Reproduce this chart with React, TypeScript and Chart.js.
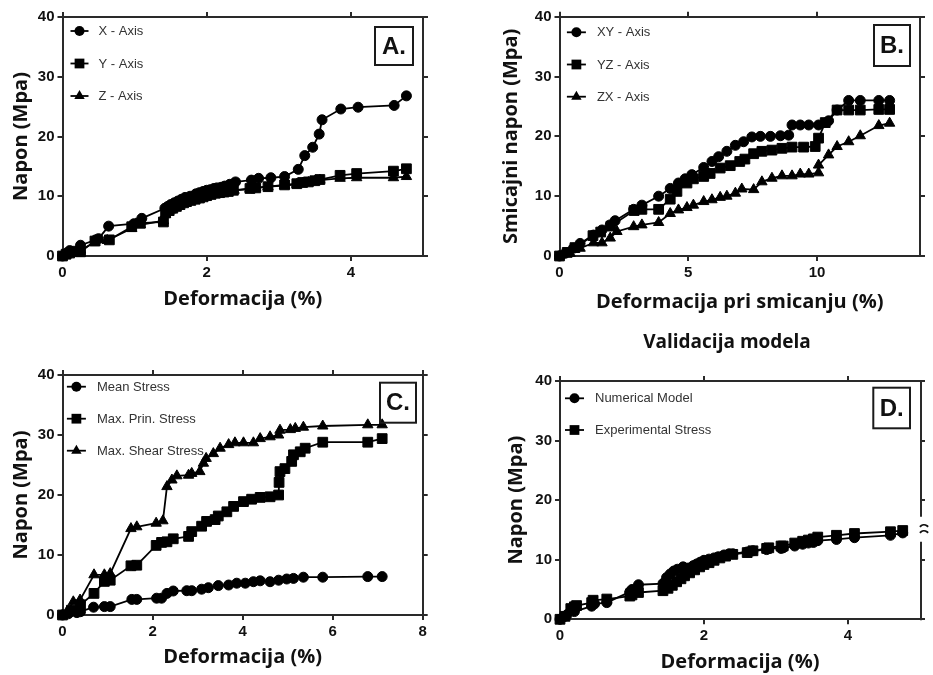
import React, { useEffect, useRef } from "react";
import { Chart, registerables } from "chart.js";

Chart.register(...registerables);

// ---------------- Panel A data ----------------
const aTicksX = [0, 2, 4];
const aXStrain = [0, 0.05, 0.1, 0.25, 0.46, 0.5, 0.64, 0.99, 1.1, 1.42, 1.46, 1.5, 1.55, 1.6, 1.65, 1.7, 1.77, 1.85, 1.9, 1.95, 2.0, 2.05, 2.1, 2.14, 2.2, 2.25, 2.32, 2.4, 2.62, 2.72, 2.89, 3.08, 3.27, 3.36, 3.47, 3.56, 3.6, 3.86, 4.1, 4.6, 4.77];
const aXStress = [0, 0.4, 0.9, 1.8, 2.7, 2.9, 5.0, 5.4, 6.3, 8.0, 8.3, 8.6, 8.9, 9.2, 9.5, 9.8, 10.0, 10.4, 10.6, 10.8, 11.0, 11.1, 11.3, 11.4, 11.5, 11.7, 12.0, 12.4, 12.7, 13.0, 13.1, 13.3, 14.5, 16.8, 18.2, 20.4, 22.8, 24.6, 24.9, 25.2, 26.8];
const aYStrain = [0, 0.05, 0.1, 0.2, 0.25, 0.45, 0.65, 0.96, 1.08, 1.4, 1.43, 1.48, 1.53, 1.58, 1.63, 1.68, 1.72, 1.78, 1.84, 1.9, 1.95, 2.0, 2.06, 2.12, 2.18, 2.24, 2.3, 2.37, 2.6, 2.68, 2.85, 3.08, 3.25, 3.33, 3.41, 3.5, 3.57, 3.85, 4.08, 4.59, 4.77];
const aYStress = [0, 0.3, 0.5, 0.8, 0.7, 2.5, 2.7, 4.9, 5.5, 5.7, 7.2, 7.6, 8.0, 8.3, 8.6, 8.9, 9.1, 9.3, 9.5, 9.7, 9.9, 10.1, 10.3, 10.5, 10.6, 10.7, 10.8, 11.0, 11.3, 11.4, 11.6, 11.9, 12.1, 12.3, 12.4, 12.6, 12.8, 13.5, 13.8, 14.2, 14.6];
const aZStrain = [0, 0.05, 0.12, 0.2, 0.25, 0.45, 0.62, 0.96, 1.08, 1.4, 1.43, 1.5, 1.55, 1.6, 1.66, 1.72, 1.78, 1.84, 1.9, 1.96, 2.02, 2.08, 2.14, 2.2, 2.26, 2.32, 2.38, 2.6, 2.68, 2.85, 3.08, 3.25, 3.33, 3.41, 3.5, 3.57, 3.85, 4.08, 4.59, 4.77];
const aZStress = [0, 0.2, 0.6, 0.9, 1.0, 2.3, 2.6, 4.6, 5.2, 5.9, 7.0, 7.7, 8.1, 8.4, 8.8, 9.1, 9.4, 9.6, 9.8, 10.0, 10.2, 10.4, 10.5, 10.7, 10.8, 10.9, 11.0, 11.2, 11.4, 11.6, 11.8, 12.0, 12.2, 12.3, 12.5, 12.7, 13.0, 13.1, 13.1, 13.3];

// ---------------- Panel B data ----------------
const bTicksX = [0, 5, 10];
const bXYStrain = [0, 0.22, 0.54, 0.8, 1.32, 1.65, 1.97, 2.16, 2.88, 3.2, 3.85, 4.3, 4.62, 4.88, 5.14, 5.6, 5.92, 6.18, 6.5, 6.83, 7.15, 7.47, 7.8, 8.19, 8.58, 8.9, 9.03, 9.35, 9.68, 10.06, 10.45, 10.78, 11.23, 11.68, 12.4, 12.82];
const bXYStress = [0, 0.45, 1.3, 2.1, 3.5, 4.35, 5.2, 5.9, 7.8, 8.5, 10.0, 11.3, 12.2, 12.9, 13.6, 14.8, 15.8, 16.6, 17.5, 18.5, 19.1, 19.9, 20.0, 20.0, 20.1, 20.2, 21.9, 21.9, 21.9, 21.9, 22.6, 24.4, 26.0, 26.0, 26.0, 26.0];
const bYZStrain = [0, 0.3, 0.6, 1.3, 1.6, 2.0, 2.9, 3.2, 3.85, 4.3, 4.56, 4.95, 5.2, 5.6, 5.85, 6.24, 6.63, 7.0, 7.2, 7.54, 7.86, 8.25, 8.64, 9.03, 9.48, 9.93, 10.06, 10.32, 10.78, 11.23, 11.68, 12.4, 12.82];
const bYZStress = [0, 0.6, 1.4, 3.4, 4.0, 5.0, 7.6, 7.8, 7.8, 9.5, 10.8, 12.2, 12.9, 13.3, 13.8, 14.7, 15.1, 15.8, 16.2, 17.1, 17.5, 17.7, 18.0, 18.2, 18.2, 18.3, 19.7, 22.3, 24.4, 24.4, 24.4, 24.5, 24.5];
const bZXStrain = [0, 0.41, 0.8, 1.32, 1.65, 1.97, 2.23, 2.88, 3.2, 3.85, 4.3, 4.62, 4.95, 5.2, 5.6, 5.92, 6.24, 6.5, 6.83, 7.08, 7.54, 7.86, 8.25, 8.64, 9.03, 9.35, 9.68, 10.06, 10.06, 10.45, 10.78, 11.23, 11.68, 12.4, 12.82];
const bZXStress = [0, 0.45, 1.3, 2.2, 2.2, 3.0, 4.1, 4.9, 5.2, 5.6, 7.1, 7.7, 8.1, 8.5, 9.1, 9.4, 9.8, 10.0, 10.5, 11.2, 11.1, 12.4, 13.0, 13.4, 13.4, 13.7, 13.7, 13.9, 15.2, 16.9, 18.3, 19.1, 20.1, 21.8, 22.2];

// ---------------- Panel C data ----------------
const cTicksX = [0, 2, 4, 6, 8];
const cMeanStrain = [0, 0.13, 0.32, 0.4, 0.69, 0.93, 1.06, 1.54, 1.65, 2.09, 2.2, 2.32, 2.46, 2.76, 2.87, 3.09, 3.24, 3.46, 3.69, 3.87, 4.06, 4.24, 4.39, 4.61, 4.8, 4.98, 5.13, 5.35, 5.78, 6.78, 7.1];
const cMeanStress = [0, 0.2, 0.4, 0.55, 1.3, 1.4, 1.4, 2.6, 2.6, 2.8, 2.8, 3.6, 4.0, 4.05, 4.05, 4.3, 4.55, 4.9, 5.0, 5.3, 5.3, 5.55, 5.7, 5.55, 5.8, 6.0, 6.1, 6.3, 6.3, 6.4, 6.4];
const cPrinStrain = [0, 0.2, 0.4, 0.7, 0.93, 1.06, 1.52, 1.65, 2.08, 2.2, 2.32, 2.46, 2.8, 2.87, 3.09, 3.2, 3.39, 3.46, 3.65, 3.8, 4.02, 4.2, 4.39, 4.61, 4.8, 4.81, 4.83, 4.94, 5.09, 5.13, 5.28, 5.39, 5.78, 6.78, 7.1];
const cPrinStress = [0, 0.8, 1.7, 3.6, 5.6, 5.8, 8.2, 8.3, 11.6, 12.1, 12.2, 12.7, 13.1, 13.9, 14.8, 15.6, 15.9, 16.5, 17.2, 18.1, 18.9, 19.3, 19.6, 19.7, 20.0, 22.1, 23.9, 24.4, 25.6, 26.7, 27.2, 27.8, 28.8, 28.8, 29.4];
const cShearStrain = [0, 0.1, 0.24, 0.39, 0.7, 0.93, 1.06, 1.52, 1.65, 2.08, 2.23, 2.32, 2.43, 2.54, 2.8, 2.87, 3.05, 3.13, 3.19, 3.35, 3.5, 3.69, 3.83, 4.02, 4.24, 4.39, 4.61, 4.8, 4.83, 5.06, 5.17, 5.35, 5.78, 6.78, 7.1];
const cShearStress = [0, 0.55, 2.2, 2.5, 6.7, 6.7, 6.9, 14.4, 14.7, 15.3, 15.7, 21.4, 22.5, 23.2, 23.3, 23.6, 23.9, 25.3, 26.1, 26.9, 27.8, 28.4, 28.7, 28.7, 28.7, 29.4, 29.7, 30.0, 30.8, 30.9, 31.1, 31.3, 31.5, 31.7, 31.7];

// ---------------- Panel D data ----------------
const dTicksX = [0, 2, 4];
const dNumStrain = [0, 0.05, 0.1, 0.2, 0.44, 0.48, 0.65, 0.97, 1.0, 1.09, 1.43, 1.48, 1.53, 1.58, 1.63, 1.71, 1.78, 1.85, 1.9, 1.95, 2.0, 2.07, 2.14, 2.2, 2.28, 2.35, 2.4, 2.6, 2.68, 2.87, 2.9, 3.07, 3.1, 3.26, 3.37, 3.45, 3.52, 3.58, 3.84, 4.09, 4.59, 4.76];
const dNumStress = [0, 0.4, 0.8, 1.3, 2.2, 2.6, 2.8, 4.6, 5.0, 5.8, 6.0, 7.0, 7.6, 8.1, 8.4, 8.8, 8.6, 9.0, 9.3, 9.6, 9.9, 10.1, 10.3, 10.5, 10.8, 11.0, 11.0, 11.3, 11.5, 11.7, 11.9, 11.9, 12.0, 12.3, 12.6, 12.8, 12.9, 13.2, 13.4, 13.7, 14.1, 14.5];
const dExpStrain = [0, 0.07, 0.15, 0.2, 0.23, 0.44, 0.46, 0.65, 0.97, 1.0, 1.09, 1.43, 1.5, 1.56, 1.62, 1.68, 1.73, 1.8, 1.87, 1.94, 2.0, 2.07, 2.14, 2.22, 2.3, 2.4, 2.6, 2.68, 2.87, 2.9, 3.07, 3.1, 3.26, 3.37, 3.45, 3.52, 3.58, 3.84, 4.09, 4.59, 4.76];
const dExpStress = [0, 0.5, 1.8, 2.1, 2.3, 2.8, 3.2, 3.4, 3.9, 4.1, 4.5, 4.8, 5.2, 5.7, 6.3, 6.8, 7.3, 7.8, 8.3, 8.8, 9.2, 9.5, 9.9, 10.3, 10.6, 10.9, 11.2, 11.5, 11.9, 12.0, 12.3, 12.3, 12.8, 13.1, 13.3, 13.5, 13.8, 14.1, 14.4, 14.7, 14.9];

// ---------------- styling ----------------
const AXIS_COLOR = "#2a2a2a";
const TEXT_COLOR = "#111111";
const LEGEND_COLOR = "#333333";
const TITLE_FONT = { family: "'Open Sans', sans-serif", size: 20, weight: "bold" as const, lineHeight: 1.2 };
const TICK_FONT = { family: "'Liberation Sans', Arial, sans-serif", size: 15, weight: "bold" as const, lineHeight: 1.2 };

const MARKERS: Record<string, number> = { circle: 5, rect: 6.9, triangle: 6 };

function series(label: string, xs: number[], ys: number[], style: string) {
  return {
    label,
    data: xs.map((x, i) => ({ x, y: ys[i] })),
    borderColor: "#000",
    borderWidth: 1.8,
    backgroundColor: "#000",
    pointStyle: style,
    pointRadius: MARKERS[style],
    pointBackgroundColor: "#000",
    pointBorderColor: "#000",
    pointBorderWidth: 1,
    tension: 0,
    clip: false as const,
  };
}

function drawMarker(ctx: CanvasRenderingContext2D, style: string, x: number, y: number, r: number) {
  ctx.beginPath();
  if (style === "circle") {
    ctx.arc(x, y, r, 0, Math.PI * 2);
  } else if (style === "rect") {
    const s = r * Math.SQRT1_2;
    ctx.rect(x - s, y - s, 2 * s, 2 * s);
  } else {
    ctx.moveTo(x, y - r);
    ctx.lineTo(x + r * 0.866, y + r * 0.5);
    ctx.lineTo(x - r * 0.866, y + r * 0.5);
    ctx.closePath();
  }
  ctx.fill();
}

const decorPlugin = {
  id: "decor",
  afterDraw(chart: any, _args: any, o: any) {
    const { ctx, chartArea: ca } = chart;
    ctx.save();
    // legend inside plot
    chart.data.datasets.forEach((ds: any, i: number) => {
      const y = ca.top + o.legendTop + i * o.legendGap;
      const x0 = ca.left + o.legendLeft;
      ctx.strokeStyle = "#000";
      ctx.lineWidth = 1.8;
      ctx.beginPath();
      ctx.moveTo(x0, y);
      ctx.lineTo(x0 + o.legendLine, y);
      ctx.stroke();
      ctx.fillStyle = "#000";
      drawMarker(ctx, ds.pointStyle, x0 + o.legendLine / 2, y, ds.pointRadius);
      ctx.fillStyle = LEGEND_COLOR;
      ctx.font = "13px 'Liberation Sans', Arial, sans-serif";
      ctx.textAlign = "left";
      ctx.textBaseline = "middle";
      ctx.fillText(ds.label, ca.left + o.legendText, y + 0.5);
    });
    // panel letter box
    const bx = ca.right - o.boxRight - o.boxW;
    const by = ca.top + o.boxTop;
    ctx.strokeStyle = "#1a1a1a";
    ctx.lineWidth = 2;
    ctx.strokeRect(bx, by, o.boxW, o.boxH);
    ctx.fillStyle = "#111";
    ctx.font = "bold 24px 'Liberation Sans', Arial, sans-serif";
    ctx.textAlign = "center";
    ctx.textBaseline = "middle";
    ctx.fillText(o.boxLabel, bx + o.boxW / 2, by + o.boxH / 2 + 1);
    // right axis with optional break
    if (o.breakFrom !== undefined) {
      const ys = chart.scales.y;
      const pTop = ys.getPixelForValue(o.breakTo);
      const pBot = ys.getPixelForValue(o.breakFrom);
      const x = ca.right + 1;
      ctx.strokeStyle = AXIS_COLOR;
      ctx.lineWidth = 2;
      ctx.beginPath();
      ctx.moveTo(x, ca.top - 1);
      ctx.lineTo(x, pTop);
      ctx.moveTo(x, pBot);
      ctx.lineTo(x, ca.bottom + 1);
      ctx.stroke();
      const mid = (pTop + pBot) / 2;
      ctx.lineWidth = 1.8;
      ctx.strokeStyle = "#111";
      for (const dy of [-3.5, 2.5]) {
        ctx.beginPath();
        ctx.arc(x + 3, mid + dy + 4, 5, Math.PI * 1.2, Math.PI * 1.8);
        ctx.stroke();
      }
    }
    ctx.restore();
  },
};

type Box = { left: number; top: number; width: number; height: number };
type Area = { left: number; top: number; right: number; bottom: number };
type PanelCfg = {
  canvas: Box;
  area: Area;
  yTitleX: number;
  xTitleY: number;
  title?: string;
  titleY?: number;
  xMax: number;
  xTicks: number[];
  xTitle: string;
  yTitle: string;
  datasets: any[];
  decor: any;
};

function Panel({ cfg }: { cfg: PanelCfg }) {
  const ref = useRef<HTMLCanvasElement | null>(null);
  useEffect(() => {
    const c = cfg.canvas;
    const a = cfg.area;
    const lh = TITLE_FONT.size * TITLE_FONT.lineHeight;
    const yW = a.left - c.left;
    const y2W = c.left + c.width - a.right;
    const xH = c.top + c.height - a.bottom;
    let topTotal = a.top - c.top;
    const titleFontSize = 19;
    const tlh = titleFontSize * 1.2;
    let titlePadTop = 0;
    const titlePadBottom = 6;
    if (cfg.title) {
      titlePadTop = (cfg.titleY as number) - c.top - tlh / 2;
      topTotal -= titlePadTop + tlh + titlePadBottom;
    }
    const x2H = topTotal;
    const tickSetter = (s: any) => {
      s.ticks = cfg.xTicks.map((v) => ({ value: v }));
    };
    const gridCommon = {
      display: true,
      drawOnChartArea: false,
      drawTicks: true,
      tickLength: 5,
      lineWidth: 2,
      color: AXIS_COLOR,
    };
    const borderCommon = { display: true, width: 2, color: AXIS_COLOR };
    const hasBreak = cfg.decor.breakFrom !== undefined;
    const chart = new Chart(ref.current as HTMLCanvasElement, {
      type: "line",
      data: { datasets: cfg.datasets },
      plugins: [decorPlugin as any],
      options: {
        animation: false,
        responsive: false,
        devicePixelRatio: 1,
        layout: { padding: 0 },
        plugins: {
          legend: { display: false },
          tooltip: { enabled: false },
          title: cfg.title
            ? {
                display: true,
                text: cfg.title,
                color: TEXT_COLOR,
                font: { family: "'Open Sans', sans-serif", size: titleFontSize, weight: "bold", lineHeight: 1.2 },
                padding: { top: titlePadTop, bottom: titlePadBottom },
              }
            : { display: false },
          decor: cfg.decor,
        } as any,
        scales: {
          x: {
            type: "linear",
            position: "bottom",
            min: 0,
            max: cfg.xMax,
            afterBuildTicks: tickSetter,
            ticks: { font: TICK_FONT, color: TEXT_COLOR, padding: 3, maxRotation: 0, autoSkip: false },
            grid: gridCommon,
            border: borderCommon,
            title: {
              display: true,
              text: cfg.xTitle,
              color: TEXT_COLOR,
              font: TITLE_FONT,
              padding: { top: 0, bottom: c.top + c.height - cfg.xTitleY - lh / 2 },
            },
            afterFit: (s: any) => {
              s.height = xH;
            },
          },
          x2: {
            type: "linear",
            position: "top",
            min: 0,
            max: cfg.xMax,
            afterBuildTicks: tickSetter,
            ticks: { display: false },
            grid: gridCommon,
            border: borderCommon,
            afterFit: (s: any) => {
              s.height = x2H;
            },
          },
          y: {
            type: "linear",
            position: "left",
            min: 0,
            max: 40,
            ticks: { stepSize: 10, font: TICK_FONT, color: TEXT_COLOR, padding: 3 },
            grid: gridCommon,
            border: borderCommon,
            title: {
              display: true,
              text: cfg.yTitle,
              color: TEXT_COLOR,
              font: TITLE_FONT,
              padding: { top: cfg.yTitleX - c.left - lh / 2, bottom: 0 },
            },
            afterFit: (s: any) => {
              s.width = yW;
            },
          },
          y2: {
            type: "linear",
            position: "right",
            min: 0,
            max: 40,
            ticks: { display: false, stepSize: 10 },
            grid: gridCommon,
            border: { ...borderCommon, display: !hasBreak },
            afterFit: (s: any) => {
              s.width = y2W;
            },
          },
        } as any,
      },
    });
    return () => chart.destroy();
  }, [cfg]);
  const c = cfg.canvas;
  return (
    <canvas
      ref={ref}
      width={c.width}
      height={c.height}
      style={{ position: "absolute", left: c.left, top: c.top, width: c.width, height: c.height }}
    />
  );
}

const PANELS: PanelCfg[] = [
  {
    canvas: { left: 0, top: 0, width: 466, height: 320 },
    area: { left: 62.5, top: 17, right: 423, bottom: 256 },
    yTitleX: 21,
    xTitleY: 299,
    xMax: 5,
    xTicks: aTicksX,
    xTitle: "Deformacija (%)",
    yTitle: "Napon (Mpa)",
    datasets: [
      series("X - Axis", aXStrain, aXStress, "circle"),
      series("Y - Axis", aYStrain, aYStress, "rect"),
      series("Z - Axis", aZStrain, aZStress, "triangle"),
    ],
    decor: { legendLeft: 8, legendLine: 18, legendText: 36, legendTop: 14, legendGap: 32.5, boxLabel: "A.", boxRight: 10, boxTop: 10, boxW: 38, boxH: 38 },
  },
  {
    canvas: { left: 466, top: 0, width: 467, height: 320 },
    area: { left: 559.5, top: 16.7, right: 920, bottom: 256 },
    yTitleX: 511,
    xTitleY: 302.5,
    xMax: 14,
    xTicks: bTicksX,
    xTitle: "Deformacija pri smicanju (%)",
    yTitle: "Smicajni napon (Mpa)",
    datasets: [
      series("XY - Axis", bXYStrain, bXYStress, "circle"),
      series("YZ - Axis", bYZStrain, bYZStress, "rect"),
      series("ZX - Axis", bZXStrain, bZXStress, "triangle"),
    ],
    decor: { legendLeft: 7.4, legendLine: 19, legendText: 37.4, legendTop: 15.6, legendGap: 32.2, boxLabel: "B.", boxRight: 10, boxTop: 8.3, boxW: 36, boxH: 41 },
  },
  {
    canvas: { left: 0, top: 320, width: 466, height: 355 },
    area: { left: 62.5, top: 375, right: 422.7, bottom: 615 },
    yTitleX: 21,
    xTitleY: 657.5,
    xMax: 8,
    xTicks: cTicksX,
    xTitle: "Deformacija (%)",
    yTitle: "Napon (Mpa)",
    datasets: [
      series("Mean Stress", cMeanStrain, cMeanStress, "circle"),
      series("Max. Prin. Stress", cPrinStrain, cPrinStress, "rect"),
      series("Max. Shear Stress", cShearStrain, cShearStress, "triangle"),
    ],
    decor: { legendLeft: 4.4, legendLine: 19, legendText: 34.4, legendTop: 11.7, legendGap: 32, boxLabel: "C.", boxRight: 6.7, boxTop: 7.7, boxW: 36, boxH: 40 },
  },
  {
    canvas: { left: 500, top: 320, width: 454, height: 355 },
    area: { left: 560, top: 381, right: 920, bottom: 619.3 },
    yTitleX: 516.7,
    xTitleY: 662.5,
    title: "Validacija modela",
    titleY: 343,
    xMax: 5,
    xTicks: dTicksX,
    xTitle: "Deformacija (%)",
    yTitle: "Napon (Mpa)",
    datasets: [
      series("Numerical Model", dNumStrain, dNumStress, "circle"),
      series("Experimental Stress", dExpStrain, dExpStress, "rect"),
    ],
    decor: { legendLeft: 5, legendLine: 19, legendText: 35, legendTop: 17.3, legendGap: 31.7, boxLabel: "D.", boxRight: 10, boxTop: 6.7, boxW: 36.7, boxH: 40.6, breakFrom: 13, breakTo: 17.2 },
  },
];

export default function App() {
  useEffect(() => {
    document.body.style.margin = "0";
    document.body.style.overflow = "hidden";
  }, []);
  return (
    <div style={{ position: "relative", width: 933, height: 675, overflow: "hidden", background: "#fff" }}>
      {PANELS.map((p, i) => (
        <Panel key={i} cfg={p} />
      ))}
    </div>
  );
}
